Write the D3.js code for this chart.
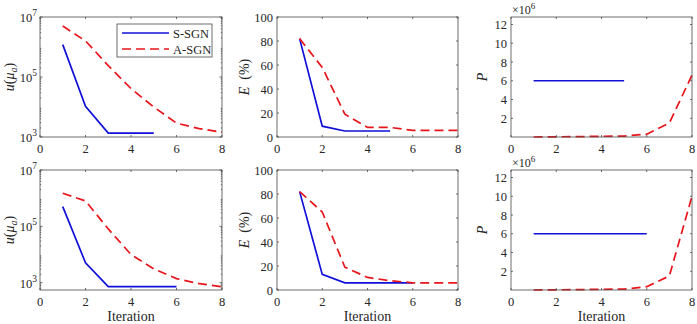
<!DOCTYPE html>
<html>
<head>
<meta charset="utf-8">
<script src="https://cdn.jsdelivr.net/npm/d3@7"></script>
<style>
body { margin: 0; background: #fff; }
svg text { font-family: "Liberation Serif", "Times New Roman", serif; fill: #262626; }
</style>
</head>
<body>
<div id="chart"></div>
<script>
// iterations
var iterTopS = [1, 2, 3, 4, 5];
var iterBotS = [1, 2, 3, 4, 5, 6];
var iterA = [1, 2, 3, 4, 5, 6, 7, 8];

// u(mu_a), log scale
var uTopS = [1.2e6, 1.05e4, 1.35e3, 1.35e3, 1.35e3];
var uTopA = [5e6, 1.6e6, 2.4e5, 4.1e4, 1e4, 2.9e3, 1.9e3, 1.45e3];
var uBotS = [5e5, 5.1e3, 720, 720, 720, 720];
var uBotA = [1.5e6, 8e5, 8.1e4, 1.0e4, 3.1e3, 1.4e3, 920, 720];

// E (%)
var eTopS = [82, 9, 5, 5, 5];
var eTopA = [82, 58, 19, 8, 8, 5.5, 5.5, 5.5];
var eBotS = [82, 13, 6, 6, 6, 6];
var eBotA = [82, 65, 19, 10.5, 7.7, 6, 6, 6];

// P (x10^6)
var pTopS = [6, 6, 6, 6, 6];
var pTopA = [0, 0.02, 0.04, 0.08, 0.1, 0.3, 1.5, 6.6];
var pBotS = [6, 6, 6, 6, 6, 6];
var pBotA = [0, 0.02, 0.04, 0.08, 0.1, 0.35, 1.5, 10];

var xTicks = [0, 2, 4, 6, 8];
var eTicks = [0, 20, 40, 60, 80, 100];
var pTicks = [2, 4, 6, 8, 10, 12];
var uExps = [3, 5, 7];
var seriesNames = ["S-SGN", "A-SGN"];

var W = 697, H = 324;
var blue = "#1010d8", red = "#e8161c";
var axisCol = "#4a4a4a";

var svg = d3.select("#chart").append("svg")
    .attr("width", W).attr("height", H)
    .attr("font-family", "Liberation Serif, Times New Roman, serif");

var cols = [{x0: 40, x1: 222}, {x0: 277, x1: 458}, {x0: 511, x1: 692}];
var rows = [{y0: 17, y1: 137}, {y0: 170, y1: 290}];

function zip(xs, ys) {
    return xs.map(function (d, i) { return [d, ys[i]]; });
}

function drawPanel(col, row, kind, sData, aData, sIter, showX, legend) {
    var c = cols[col], r = rows[row];
    var g = svg.append("g");
    var x = d3.scaleLinear().domain([0, 8]).range([c.x0, c.x1]);
    var y;
    if (kind === "u") {
        y = d3.scaleLog().domain([row === 0 ? 1e3 : 550, 1e7]).range([r.y1, r.y0]);
    } else if (kind === "e") {
        y = d3.scaleLinear().domain([0, 100]).range([r.y1, r.y0]);
    } else {
        y = d3.scaleLinear().domain([0, 12.8]).range([r.y1, r.y0]);
    }

    // lines
    var line = d3.line().x(function (d) { return x(d[0]); }).y(function (d) { return y(d[1]); });
    g.append("path").datum(zip(sIter, sData))
        .attr("d", line).attr("fill", "none")
        .attr("stroke", blue).attr("stroke-width", 1.7);
    g.append("path").datum(zip(iterA, aData))
        .attr("d", line).attr("fill", "none")
        .attr("stroke", red).attr("stroke-width", 1.7)
        .attr("stroke-dasharray", "9,5");

    // box
    g.append("rect")
        .attr("x", c.x0).attr("y", r.y0)
        .attr("width", c.x1 - c.x0).attr("height", r.y1 - r.y0)
        .attr("fill", "none").attr("stroke", axisCol).attr("stroke-width", 0.8);

    // x ticks (inside, bottom and top)
    xTicks.forEach(function (t) {
        g.append("line").attr("x1", x(t)).attr("x2", x(t))
            .attr("y1", r.y1).attr("y2", r.y1 - 2).attr("stroke", axisCol).attr("stroke-width", 0.8);
        g.append("line").attr("x1", x(t)).attr("x2", x(t))
            .attr("y1", r.y0).attr("y2", r.y0 + 2).attr("stroke", axisCol).attr("stroke-width", 0.8);
        g.append("text").attr("x", x(t)).attr("y", r.y1 + 16)
            .attr("text-anchor", "middle").attr("font-size", 12.5).text(t);
    });
    if (showX) {
        g.append("text").attr("x", (c.x0 + c.x1) / 2).attr("y", r.y1 + 31)
            .attr("text-anchor", "middle").attr("font-size", 14).text("Iteration");
    }

    function yTick(v, len) {
        g.append("line").attr("x1", c.x0).attr("x2", c.x0 + len)
            .attr("y1", y(v)).attr("y2", y(v)).attr("stroke", axisCol).attr("stroke-width", 0.8);
        g.append("line").attr("x1", c.x1).attr("x2", c.x1 - len)
            .attr("y1", y(v)).attr("y2", y(v)).attr("stroke", axisCol).attr("stroke-width", 0.8);
    }

    var ly;
    if (kind === "u") {
        var lo = y.domain()[0];
        for (var e = 2; e < 7; e++) {
            for (var m = 2; m <= 9; m++) {
                var v = m * Math.pow(10, e);
                if (v >= lo && v <= 1e7) yTick(v, 1.2);
            }
        }
        uExps.forEach(function (e) {
            yTick(Math.pow(10, e), 2.5);
            var t = g.append("text").attr("x", c.x0 - 3).attr("y", y(Math.pow(10, e)) + 5)
                .attr("text-anchor", "end").attr("font-size", 12.5);
            t.append("tspan").text("10");
            t.append("tspan").attr("dy", -6).attr("font-size", 9.5).text(e);
        });
        ly = g.append("text").attr("transform", "translate(" + (c.x0 - 26) + "," + ((r.y0 + r.y1) / 2) + ") rotate(-90)")
            .attr("text-anchor", "middle").attr("font-size", 14);
        ly.append("tspan").attr("font-style", "italic").text("u");
        ly.append("tspan").text("(");
        ly.append("tspan").attr("font-style", "italic").text("\u03bc");
        ly.append("tspan").attr("font-style", "italic").attr("font-size", 10).attr("dy", 3).text("a");
        ly.append("tspan").attr("dy", -3).text(")");
    } else if (kind === "e") {
        eTicks.forEach(function (t) {
            yTick(t, 2);
            g.append("text").attr("x", c.x0 - 4).attr("y", y(t) + 4.5)
                .attr("text-anchor", "end").attr("font-size", 12.5).text(t);
        });
        ly = g.append("text").attr("transform", "translate(" + (c.x0 - 28) + "," + ((r.y0 + r.y1) / 2) + ") rotate(-90)")
            .attr("text-anchor", "middle").attr("font-size", 14);
        ly.append("tspan").attr("font-style", "italic").text("E");
        ly.append("tspan").text("\u00a0\u00a0(%)");
    } else {
        pTicks.forEach(function (t) {
            yTick(t, 2);
            g.append("text").attr("x", c.x0 - 4).attr("y", y(t) + 4.5)
                .attr("text-anchor", "end").attr("font-size", 12.5).text(t);
        });
        g.append("text").attr("transform", "translate(" + (c.x0 - 24) + "," + ((r.y0 + r.y1) / 2) + ") rotate(-90)")
            .attr("text-anchor", "middle").attr("font-size", 14).attr("font-style", "italic").text("P");
        var ex = g.append("text").attr("x", c.x0 + 1).attr("y", r.y0 - 3)
            .attr("font-size", 12);
        ex.append("tspan").text("\u00d710");
        ex.append("tspan").attr("dy", -5).attr("font-size", 9).text("6");
    }

    if (legend) {
        var lg = g.append("g");
        lg.append("rect").attr("x", 117).attr("y", 24).attr("width", 95).attr("height", 33)
            .attr("fill", "#fff").attr("stroke", axisCol).attr("stroke-width", 0.8);
        seriesNames.forEach(function (name, i) {
            var yy = 33 + i * 16;
            lg.append("line").attr("x1", 122).attr("x2", 169).attr("y1", yy).attr("y2", yy)
                .attr("stroke", i === 0 ? blue : red).attr("stroke-width", 1.7)
                .attr("stroke-dasharray", i === 0 ? null : "9,5");
            lg.append("text").attr("x", 173).attr("y", yy + 4.5).attr("font-size", 12.5).text(name);
        });
    }
}

drawPanel(0, 0, "u", uTopS, uTopA, iterTopS, false, true);
drawPanel(1, 0, "e", eTopS, eTopA, iterTopS, false, false);
drawPanel(2, 0, "p", pTopS, pTopA, iterTopS, false, false);
drawPanel(0, 1, "u", uBotS, uBotA, iterBotS, true, false);
drawPanel(1, 1, "e", eBotS, eBotA, iterBotS, true, false);
drawPanel(2, 1, "p", pBotS, pBotA, iterBotS, true, false);
</script>
</body>
</html>
